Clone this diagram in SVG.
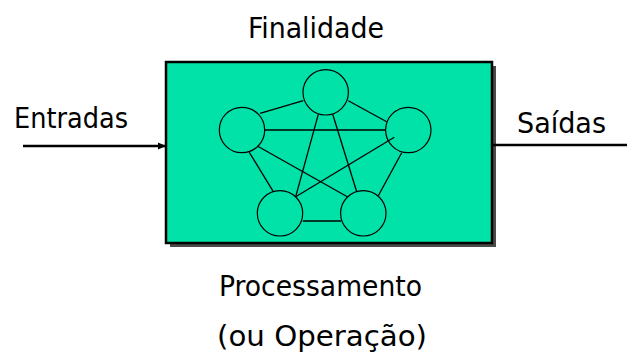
<svg xmlns="http://www.w3.org/2000/svg" width="627" height="361" viewBox="0 0 627 361">
<style>
text{font-family:"DejaVu Sans Condensed","DejaVu Sans",sans-serif;font-stretch:condensed;font-size:28px;fill:#000}
.n{fill:none;stroke:#000;stroke-width:1.2}
.e{stroke:#000;stroke-width:1.3;fill:none}
.io{stroke:#000;stroke-width:2.5;fill:none}
</style>
<defs>
<marker id="ah" markerWidth="8" markerHeight="8" refX="7" refY="4" orient="auto" markerUnits="userSpaceOnUse">
<path d="M0,0.5 L8,4 L0,7.5 Z" fill="#000"/>
</marker>
</defs>
<rect width="627" height="361" fill="#fff"/>
<g id="system">
<rect x="170" y="66" width="326" height="181" fill="#2a2a2a" opacity="0.85"/>
<rect x="166" y="62" width="326" height="181" fill="#00E2A8" stroke="#000" stroke-width="2.5"/>
</g>
<g id="connectors">
<line class="io" x1="23" y1="146" x2="165" y2="146" marker-end="url(#ah)"/>
<line class="io" x1="493" y1="145" x2="627" y2="145"/>
<line class="e" x1="260" y1="113.3" x2="303.3" y2="100.7"/>
<line class="e" x1="348.3" y1="100.7" x2="386.7" y2="121.7"/>
<line class="e" x1="265" y1="130" x2="386" y2="130"/>
<line class="e" x1="249.3" y1="152.3" x2="273.3" y2="191.7"/>
<line class="e" x1="401.7" y1="152.7" x2="378.3" y2="195.7"/>
<line class="e" x1="302.7" y1="221" x2="341" y2="221"/>
<line class="e" x1="318.3" y1="114.3" x2="295.7" y2="196.7"/>
<line class="e" x1="332.7" y1="114.3" x2="356.7" y2="191.7"/>
<line class="e" x1="257.3" y1="146" x2="347.3" y2="196.7"/>
<line class="e" x1="394.3" y1="137.3" x2="295.7" y2="196.7"/>
</g>
<g id="node-top"><circle class="n" cx="325.7" cy="92.3" r="22.7"/></g>
<g id="node-left"><circle class="n" cx="242" cy="130" r="22.7"/></g>
<g id="node-right"><circle class="n" cx="408.3" cy="130" r="22.7"/></g>
<g id="node-bl"><circle class="n" cx="280" cy="213.3" r="22.7"/></g>
<g id="node-br"><circle class="n" cx="363.3" cy="213.3" r="22.7"/></g>
<g id="labels">
<text x="248" y="38" textLength="136" lengthAdjust="spacingAndGlyphs">Finalidade</text>
<text x="14" y="128" textLength="114" lengthAdjust="spacingAndGlyphs">Entradas</text>
<text x="517" y="133" textLength="89" lengthAdjust="spacingAndGlyphs">Saídas</text>
<text x="219" y="296" textLength="203" lengthAdjust="spacingAndGlyphs">Processamento</text>
<text x="217" y="346" textLength="210" lengthAdjust="spacingAndGlyphs">(ou Operação)</text>
</g>
</svg>
